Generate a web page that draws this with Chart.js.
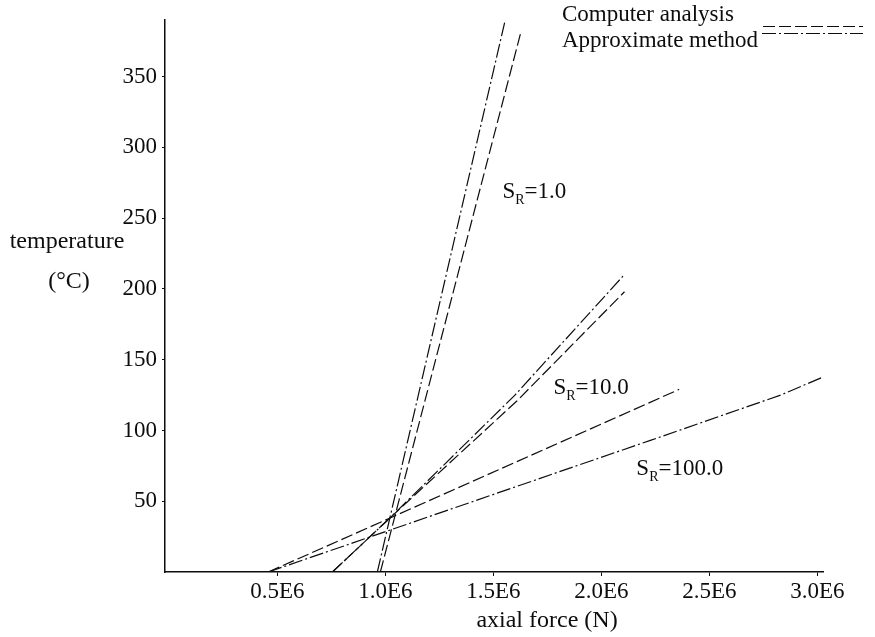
<!DOCTYPE html>
<html>
<head>
<meta charset="utf-8">
<script src="https://cdn.jsdelivr.net/npm/chart.js@4.4.0/dist/chart.umd.min.js"></script>
<style>
    body { margin: 0; background: #fff; }
    #wrap { width: 875px; height: 637px; }
</style>
</head>
<body>
<div id="wrap"><canvas id="myLineChart"></canvas></div>
<script>
// axial force (N) against temperature (°C)
const sr1ComputerX = [0.977e6, 1.625e6];
const sr1ComputerY = [0, 380];
const sr1ApproxX = [0.963e6, 1.555e6];
const sr1ApproxY = [0, 390];

const sr10ComputerX = [0.755e6, 1.02e6, 1.61e6, 2.107e6];
const sr10ComputerY = [0, 38, 121, 198];
const sr10ApproxX = [0.755e6, 1.02e6, 1.60e6, 2.10e6];
const sr10ApproxY = [0, 38, 125, 209];

const sr100ComputerX = [0.458e6, 1.02e6, 2.36e6];
const sr100ComputerY = [0, 38, 129];
const sr100ApproxX = [0.458e6, 2.227e6, 2.83e6, 3.03e6];
const sr100ApproxY = [0, 93, 125, 138];

const xTickValues = [0.5e6, 1.0e6, 1.5e6, 2.0e6, 2.5e6, 3.0e6];
const xTickLabels = ['0.5E6', '1.0E6', '1.5E6', '2.0E6', '2.5E6', '3.0E6'];
const yTickValues = [50, 100, 150, 200, 250, 300, 350];

const srNames = ['1.0', '10.0', '100.0'];
const legendNames = ['Computer analysis', 'Approximate method'];

const fontFamily = '"Liberation Serif", "Times New Roman", serif';
const ink = '#0d0d0d';
const dashed = [12, 4];
const dashDot = [14, 3, 2, 3];

function toPoints(xs, ys) {
    return xs.map(function (x, i) { return { x: x, y: ys[i] }; });
}

function makeSet(label, xs, ys, dash) {
    return {
        label: label,
        data: toPoints(xs, ys),
        borderColor: ink,
        borderWidth: 1.2,
        borderDash: dash,
        pointRadius: 0,
        fill: false,
        tension: 0
    };
}

// S_R labels and legend, drawn as text on the canvas
const textPlugin = {
    id: 'textPlugin',
    afterDraw: function (chart) {
        const ctx = chart.ctx;
        const xs = chart.scales.x;
        const ys = chart.scales.y;
        ctx.save();
        ctx.fillStyle = ink;
        ctx.textBaseline = 'alphabetic';

        // axis titles
        ctx.font = '24px ' + fontFamily;
        ctx.textAlign = 'center';
        ctx.fillText('temperature', 67, 248);
        ctx.fillText('(°C)', 69, 288);
        ctx.fillText('axial force (N)', 547, 627);

        // S_R = ... labels, placed in data units
        const spots = [[1.542e6, 264], [1.778e6, 126], [2.162e6, 68.5]];
        ctx.textAlign = 'left';
        spots.forEach(function (p, i) {
            let px = xs.getPixelForValue(p[0]);
            const py = ys.getPixelForValue(p[1]);
            ctx.font = '23px ' + fontFamily;
            ctx.fillText('S', px, py);
            px += ctx.measureText('S').width;
            ctx.font = '14px ' + fontFamily;
            ctx.fillText('R', px, py + 6);
            px += ctx.measureText('R').width;
            ctx.font = '23px ' + fontFamily;
            ctx.fillText('=' + srNames[i], px, py);
        });

        // legend, text first then line sample
        ctx.font = '23px ' + fontFamily;
        ctx.fillText(legendNames[0], 562, 21);
        ctx.fillText(legendNames[1], 562, 47);
        ctx.strokeStyle = ink;
        ctx.lineWidth = 1;
        ctx.setLineDash(dashed);
        ctx.beginPath();
        ctx.moveTo(763, 26.5);
        ctx.lineTo(863, 26.5);
        ctx.stroke();
        ctx.setLineDash(dashDot);
        ctx.beginPath();
        ctx.moveTo(762, 33.5);
        ctx.lineTo(863, 33.5);
        ctx.stroke();
        ctx.restore();
    }
};

function createChart() {
    const data = {
        datasets: [
            makeSet(legendNames[0], sr1ComputerX, sr1ComputerY, dashed),
            makeSet(legendNames[1], sr1ApproxX, sr1ApproxY, dashDot),
            makeSet(legendNames[0], sr10ComputerX, sr10ComputerY, dashed),
            makeSet(legendNames[1], sr10ApproxX, sr10ApproxY, dashDot),
            makeSet(legendNames[0], sr100ComputerX, sr100ComputerY, dashed),
            makeSet(legendNames[1], sr100ApproxX, sr100ApproxY, dashDot)
        ]
    };

    const options = {
        responsive: true,
        maintainAspectRatio: false,
        animation: false,
        layout: {
            padding: { top: 20, right: 52, left: 0, bottom: 0 }
        },
        plugins: {
            legend: { display: false },
            tooltip: { enabled: false }
        },
        scales: {
            x: {
                type: 'linear',
                min: -20000,
                max: 3026000,
                afterBuildTicks: function (scale) {
                    scale.ticks = xTickValues.map(function (v) { return { value: v }; });
                },
                afterFit: function (scale) { scale.height = 65; },
                ticks: {
                    autoSkip: false,
                    maxRotation: 0,
                    padding: 2,
                    color: ink,
                    font: { family: fontFamily, size: 23 },
                    callback: function (value, index) { return xTickLabels[index]; }
                },
                grid: { drawOnChartArea: false, tickLength: 4, color: ink },
                border: { color: ink, width: 1.5 }
            },
            y: {
                min: 0,
                max: 390,
                afterBuildTicks: function (scale) {
                    scale.ticks = yTickValues.map(function (v) { return { value: v }; });
                },
                afterFit: function (scale) { scale.width = 165; },
                ticks: {
                    padding: 5,
                    color: ink,
                    font: { family: fontFamily, size: 23 },
                    callback: function (value) { return String(value); }
                },
                grid: { drawOnChartArea: false, tickLength: 3, color: ink },
                border: { color: ink, width: 1.5 }
            }
        }
    };

    const ctx = document.getElementById('myLineChart').getContext('2d');
    new Chart(ctx, {
        type: 'line',
        data: data,
        options: options,
        plugins: [textPlugin]
    });
}

document.addEventListener('DOMContentLoaded', function () {
    createChart();
});
</script>
</body>
</html>
